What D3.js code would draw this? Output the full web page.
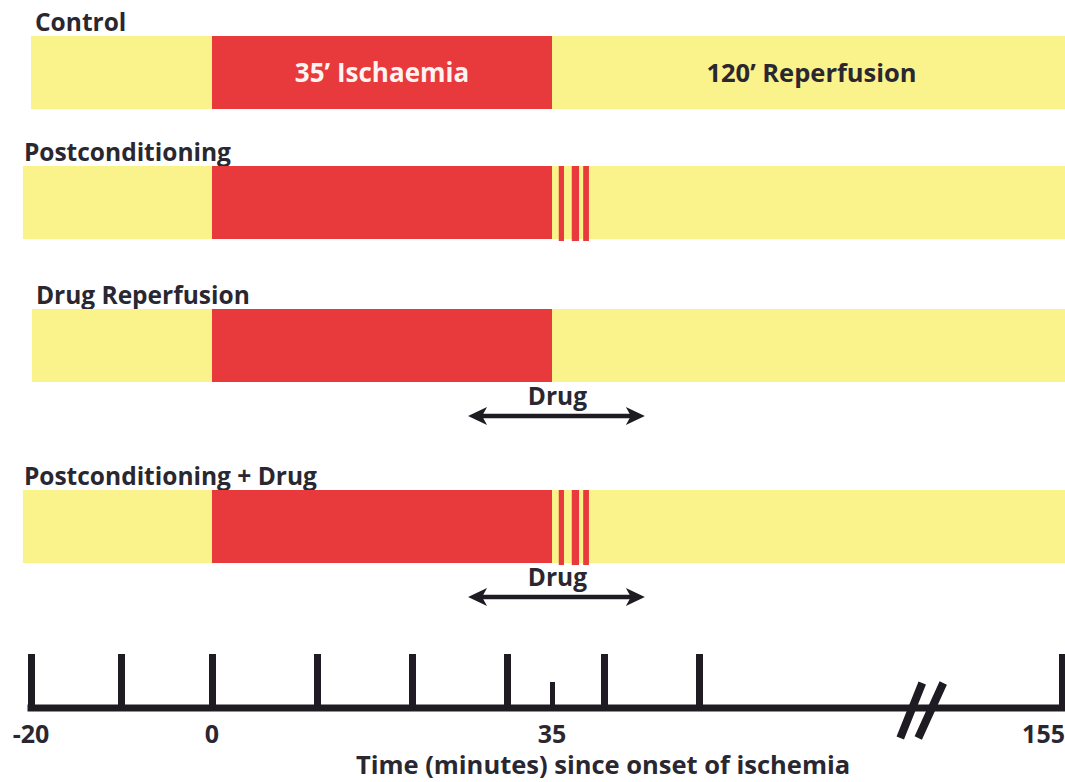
<!DOCTYPE html>
<html>
<head>
<meta charset="utf-8">
<script src="https://cdn.jsdelivr.net/npm/d3@7"></script>
<style>
  html, body { margin: 0; padding: 0; background: #ffffff; }
  svg { display: block; font-family: "Open Sans", "DejaVu Sans", sans-serif; }
</style>
</head>
<body>
<svg id="chart" width="1065" height="782"></svg>
<script>
// ---- data ----
const groups = ["Control", "Postconditioning", "Drug Reperfusion", "Postconditioning + Drug"];
const groupStart = [-20, -20.9, -19.9, -20.9];          // start of stabilisation (min)
const ischaemia = [0, 35];                               // 35' ischaemia window (min)
const reperfusionEnd = 155;                              // end of 120' reperfusion (min)
const hasPostcon = [false, true, false, true];
const hasDrug = [false, false, true, true];
const postconCycles = [[35.65, 36.15], [36.9, 37.6], [38.0, 38.55]]; // brief re-occlusions (min)
const drugWindow = [25.9, 44.3];                         // drug infusion (min)
const majorTicks = [-20, -10, 0, 10, 20, 30, 40, 50, 155];
const minorTicks = [35];
const tickLabels = [-20, 0, 35, 155];
const axisBreakAt = 114;
const segmentLabels = ["35\u2019 Ischaemia", "120\u2019 Reperfusion"];
const axisTitle = "Time (minutes) since onset of ischemia";

// ---- layout ----
const W = 1065, H = 782;
const svg = d3.select("#chart");
const YELLOW = "#faf28a", RED = "#e8393c", INK = "#2a2730", AXIS = "#1e1c22";

// hand-drawn time axis: piecewise linear with a break after 50 min
const x = d3.scaleLinear()
  .domain([-20, -10, 0, 10, 20, 30, 35, 40, 50, 155])
  .range([31, 121, 212, 317, 412, 507, 552, 604, 699, 1062]);
const yRow = d3.scaleOrdinal().domain(groups).range([36, 166, 309, 490]);
const barH = 73;
const baseY = 708;

// group labels
svg.selectAll("text.glabel").data(groups).join("text")
  .attr("class", "glabel")
  .attr("x", (d, i) => x(groupStart[i]) + (i === 0 || i === 2 ? 4 : 1))
  .attr("y", d => yRow(d) - 5)
  .attr("font-size", 24.5).attr("font-weight", 700).attr("fill", INK)
  .text(d => d);

// bars
const rows = svg.selectAll("g.row").data(groups).join("g").attr("class", "row")
  .attr("transform", d => `translate(0,${yRow(d)})`);

rows.append("rect")
  .attr("x", (d, i) => x(groupStart[i]))
  .attr("width", (d, i) => Math.max(x(reperfusionEnd), W) - x(groupStart[i]))
  .attr("y", 0).attr("height", barH).attr("fill", YELLOW);

rows.append("rect")
  .attr("x", x(ischaemia[0])).attr("width", x(ischaemia[1]) - x(ischaemia[0]))
  .attr("y", 0).attr("height", barH).attr("fill", RED);

rows.filter((d, i) => hasPostcon[i]).selectAll("rect.cycle").data(postconCycles).join("rect")
  .attr("class", "cycle")
  .attr("x", d => x(d[0])).attr("width", d => x(d[1]) - x(d[0]))
  .attr("y", 0).attr("height", barH + 2).attr("fill", RED);

// segment labels in control row
const r0 = svg.select("g.row");
r0.append("text")
  .attr("x", (x(ischaemia[0]) + x(ischaemia[1])) / 2).attr("y", barH / 2 + 9)
  .attr("text-anchor", "middle").attr("font-size", 26).attr("font-weight", 700)
  .attr("fill", "#fff4f2").text(segmentLabels[0]);
r0.append("text")
  .attr("x", (x(ischaemia[1]) + W) / 2 + 3).attr("y", barH / 2 + 9)
  .attr("text-anchor", "middle").attr("font-size", 25.5).attr("font-weight", 700)
  .attr("fill", INK).text(segmentLabels[1]);

// drug arrows
const drugRows = rows.filter((d, i) => hasDrug[i]);
drugRows.append("text")
  .attr("x", (x(drugWindow[0]) + x(drugWindow[1])) / 2 + 1).attr("y", barH + 23)
  .attr("text-anchor", "middle").attr("font-size", 24.5).attr("font-weight", 700)
  .attr("fill", INK).text("Drug");
drugRows.append("line")
  .attr("x1", x(drugWindow[0]) + 10).attr("x2", x(drugWindow[1]) - 10)
  .attr("y1", barH + 34).attr("y2", barH + 34)
  .attr("stroke", AXIS).attr("stroke-width", 4.5);
const ah = 19, aw = 9;
drugRows.append("path")
  .attr("d", () => {
    const a = x(drugWindow[0]), b = x(drugWindow[1]), yy = barH + 34;
    return `M${a},${yy} L${a + ah},${yy - aw} L${a + ah - 5},${yy} L${a + ah},${yy + aw} Z` +
           `M${b},${yy} L${b - ah},${yy - aw} L${b - ah + 5},${yy} L${b - ah},${yy + aw} Z`;
  })
  .attr("fill", AXIS);

// axis
const axisG = svg.append("g").attr("transform", `translate(0,${baseY})`);
axisG.call(d3.axisTop(x).tickValues(majorTicks).tickSize(54).tickSizeOuter(0).tickFormat(""));
axisG.call(g => g.select(".domain").remove());
axisG.selectAll(".tick line").attr("stroke", AXIS).attr("stroke-width", 7);

const minorG = svg.append("g").attr("transform", `translate(0,${baseY})`);
minorG.call(d3.axisTop(x).tickValues(minorTicks).tickSize(26).tickFormat(""));
minorG.select(".domain").remove();
minorG.selectAll(".tick line").attr("stroke", AXIS).attr("stroke-width", 5);

svg.append("line")
  .attr("x1", x(-20) - 3.5).attr("x2", x(155) + 3.5)
  .attr("y1", baseY).attr("y2", baseY)
  .attr("stroke", AXIS).attr("stroke-width", 7);

// axis break
const bx = x(axisBreakAt);
svg.append("path")
  .attr("d", `M${bx - 20},${baseY + 30} L${bx + 2},${baseY - 25} M${bx - 2},${baseY + 30} L${bx + 23},${baseY - 25}`)
  .attr("stroke", AXIS).attr("stroke-width", 8);

// tick labels
svg.selectAll("text.tl").data(tickLabels).join("text")
  .attr("class", "tl")
  .attr("x", d => d === 155 ? x(d) + 3 : x(d))
  .attr("y", baseY + 35)
  .attr("text-anchor", d => d === 155 ? "end" : "middle")
  .attr("font-size", 25).attr("font-weight", 700).attr("fill", INK)
  .text(d => d);

svg.append("text")
  .attr("x", 603).attr("y", 774)
  .attr("text-anchor", "middle").attr("font-size", 25.5).attr("font-weight", 700)
  .attr("fill", INK).text(axisTitle);
</script>
</body>
</html>
